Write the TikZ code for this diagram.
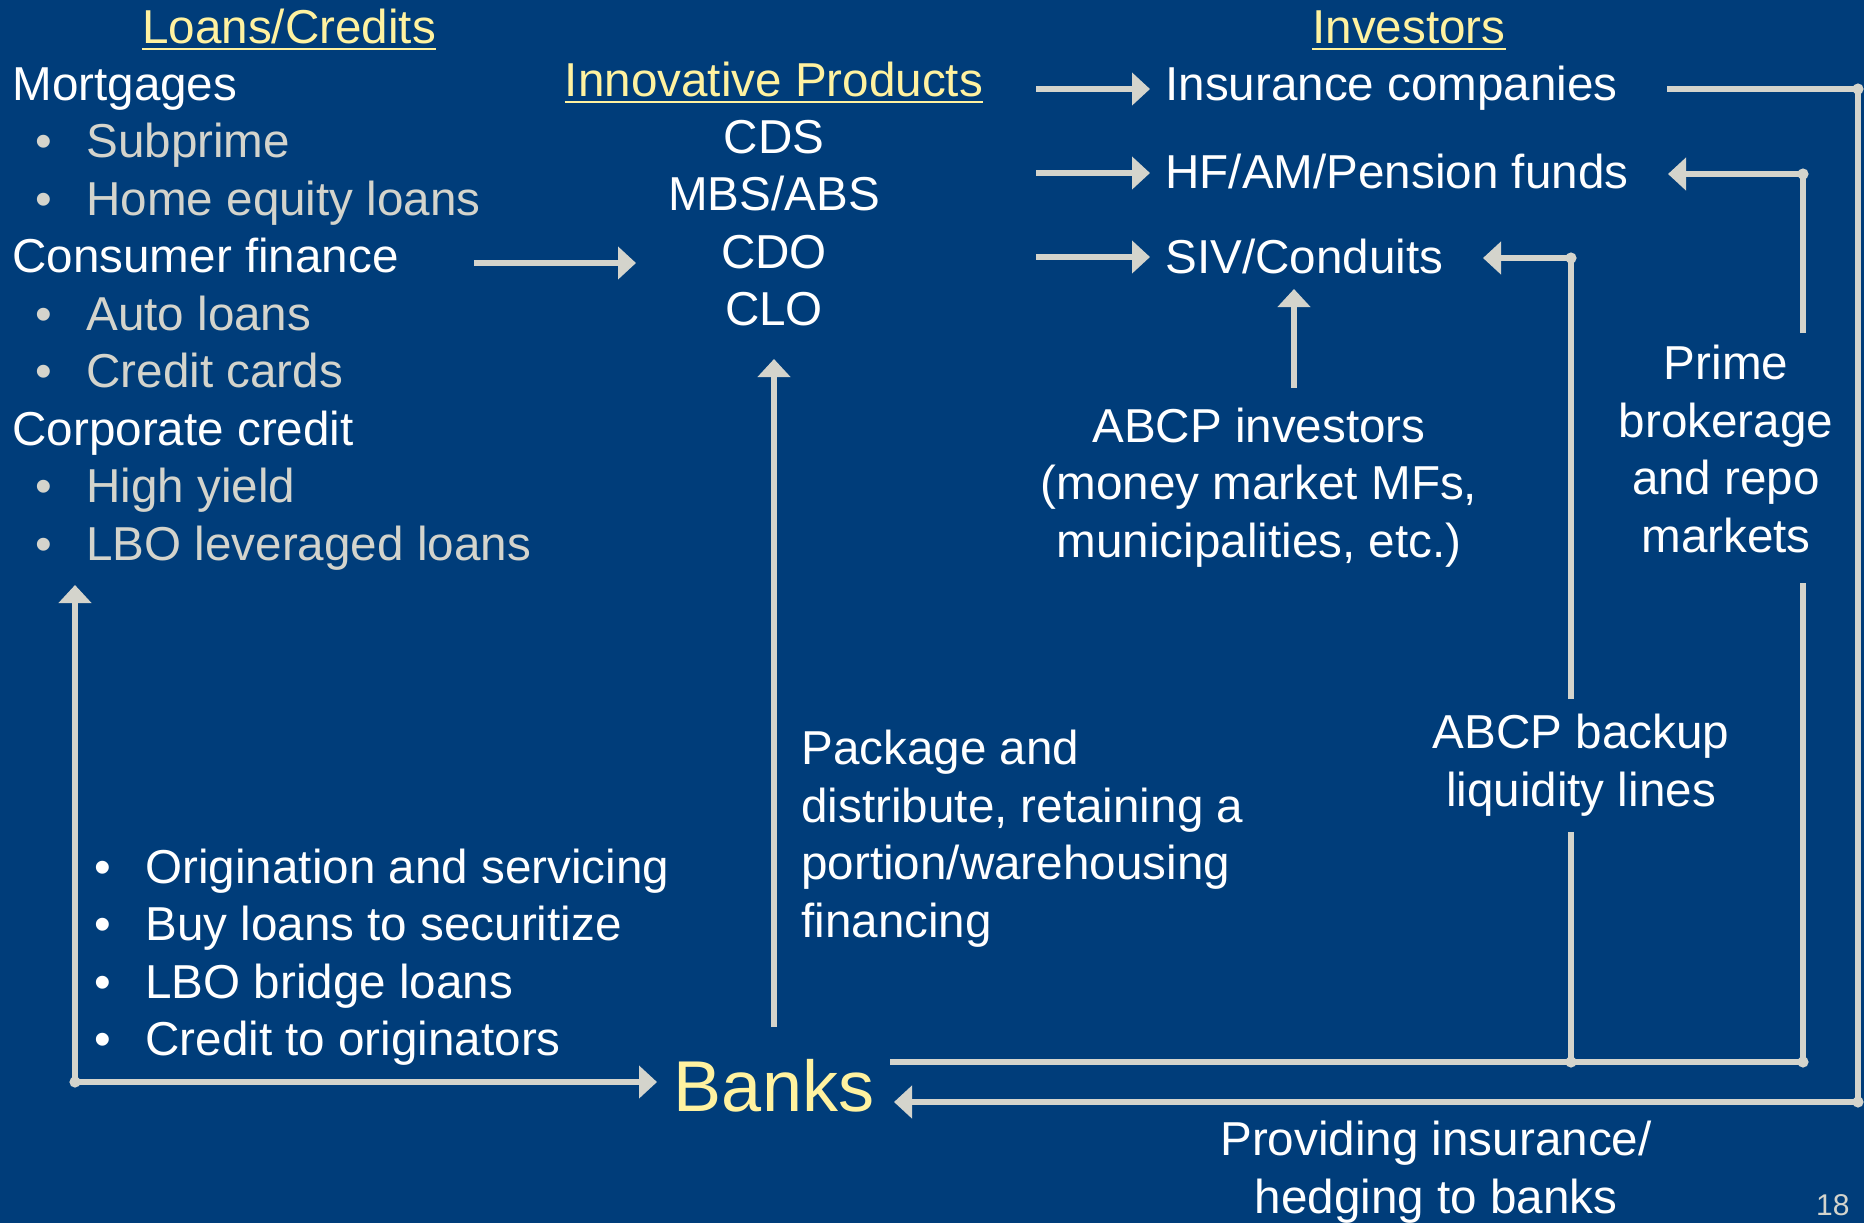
\documentclass[tikz,border=0pt]{standalone}
\usepackage{fontspec}
\setmainfont{Liberation Sans}
\usetikzlibrary{arrows.meta,positioning}
\definecolor{slideblue}{RGB}{0,61,122}
\definecolor{flowgray}{RGB}{212,212,204}
\definecolor{headyellow}{RGB}{255,242,160}
\tikzset{
txt/.style={
  inner sep=0pt, anchor=base west, text=white,
  font=\fontsize{23.8}{28.75}\selectfont
  },
subtxt/.style={txt, text=flowgray},
bull/.style={inner sep=0pt, anchor=base,
  font=\fontsize{23.8}{28.75}\selectfont},
ctrtxt/.style={
  inner sep=0pt, anchor=base, align=center, text=white,
  font=\fontsize{23.8}{28.75}\selectfont
  },
head/.style={ctrtxt, text=headyellow},
flow/.style={draw=flowgray, line width=3.25pt, line join=round},
uline/.style={draw=headyellow, line width=1.4pt}
}

\begin{document}
\begin{tikzpicture}[x=0.5pt,y=-0.5pt,>={Triangle[length=9pt,width=16pt]}]
\fill[slideblue] (0,0) rectangle (1864,1223);
\useasboundingbox (0,0) rectangle (1864,1223);

% loans / credits
\node[head] (loans) at (289,43) {Loans/Credits};
\node[txt] (mort) at (12,100) {Mortgages};
\node[subtxt] (subpr) at (86,157.5) {Subprime};
\node[subtxt] (homeq) at (86,215) {Home equity loans};
\node[txt] (cons) at (12,272.5) {Consumer finance};
\node[subtxt] (auto) at (86,330) {Auto loans};
\node[subtxt] (card) at (86,387.5) {Credit cards};
\node[txt] (corp) at (12,445) {Corporate credit};
\node[subtxt] (hiyld) at (86,502.5) {High yield};
\node[subtxt] (lbo) at (86,560) {LBO leveraged loans};
\foreach \y [count=\i] in {157.5,215,330,387.5,502.5,560}
  \node[bull,text=flowgray] (lb\i) at (44,\y) {\textbullet};

% products (base = last line)
\node[head] (innov) at (774,96) {Innovative Products};
\node[ctrtxt] (prod) at (774,325.5) {CDS\\MBS/ABS\\CDO\\CLO};

% investors
\node[head] (invest) at (1409,43) {Investors};
\node[txt] (insur) at (1165,100) {Insurance companies};
\node[txt] (hfam) at (1165,188) {HF/AM/Pension funds};
\node[txt] (siv) at (1165,273) {SIV/Conduits};

\draw[uline] ([yshift=-3pt]loans.base west) -- ([yshift=-3pt]loans.base east);
\draw[uline] ([yshift=-3pt]innov.base west) -- ([yshift=-3pt]innov.base east);
\draw[uline] ([yshift=-3pt]invest.base west) -- ([yshift=-3pt]invest.base east);

% middle labels
\node[ctrtxt] (abcpinv) at (1259,557)
  {ABCP investors\\(money market MFs,\\municipalities, etc.)};
\node[ctrtxt] (prime) at (1726,552) {Prime\\brokerage\\and repo\\markets};
\node[ctrtxt] (backup) at (1581,806) {ABCP backup\\liquidity lines};
\node[txt, align=left] (pack) at (801,937)
  {Package and\\distribute, retaining a\\portion/warehousing\\financing};

% banks
\node[txt] (orig) at (145,883) {Origination and servicing};
\node[txt] (buy) at (145,940.5) {Buy loans to securitize};
\node[txt] (bridge) at (145,998) {LBO bridge loans};
\node[txt] (credo) at (145,1055.5) {Credit to originators};
\foreach \y [count=\i] in {883,940.5,998,1055.5}
  \node[bull,text=white] (bb\i) at (103,\y) {\textbullet};
\node[inner sep=0pt, anchor=base, text=headyellow,
  font=\fontsize{36}{40}\selectfont] (banks) at (774,1111) {Banks};
\node[ctrtxt] (hedge) at (1436,1213) {Providing insurance/\\hedging to banks};
\node[inner sep=0pt, anchor=base east, text=flowgray,
  font=\fontsize{15}{17}\selectfont] (pgno) at (1850,1215) {18};

% connector ends
\coordinate (consA) at (474,263);
\coordinate (consB) at (636,263);
\coordinate (invA1) at (1036,89);
\coordinate (invB1) at (1150,89);
\coordinate (invA2) at (1036,173);
\coordinate (invB2) at (1150,173);
\coordinate (invA3) at (1036,257);
\coordinate (invB3) at (1150,257);
\coordinate (insA) at (1667,89);
\coordinate (insC) at (1858,89);
\coordinate (insD) at (1858,1102);
\coordinate (insB) at (894,1102);
\coordinate (prA) at (1803,333);
\coordinate (prC) at (1803,174);
\coordinate (prB) at (1668,174);
\coordinate (prD) at (1803,583);
\coordinate (prE) at (1803,1062);
\coordinate (bkA) at (1571,699);
\coordinate (bkC) at (1571,258);
\coordinate (bkB) at (1483,258);
\coordinate (bkD) at (1571,832);
\coordinate (bkE) at (1571,1062);
\coordinate (bnkA) at (890,1062);
\coordinate (abA) at (1294,388);
\coordinate (abB) at (1294,289);
\coordinate (pkA) at (774,1027);
\coordinate (pkB) at (774,359);
\coordinate (lnA) at (75,585);
\coordinate (lnC) at (75,1082);
\coordinate (lnB) at (657,1082);

% arrows
\draw[flow,->] (consA) -- (consB);
\draw[flow,->] (invA1) -- (invB1);
\draw[flow,->] (invA2) -- (invB2);
\draw[flow,->] (invA3) -- (invB3);
\draw[flow,->] (insA) -- (insC) -- (insD) -- (insB);
\draw[flow,->] (prA) -- (prC) -- (prB);
\draw[flow] (prD) -- (prE);
\draw[flow,->] (bkA) -- (bkC) -- (bkB);
\draw[flow] (bkD) -- (bkE);
\draw[flow] (bnkA) -- (prE);
\draw[flow,->] (abA) -- (abB);
\draw[flow,->] (pkA) -- (pkB);
\draw[flow,<->] (lnA) -- (lnC) -- (lnB);
\foreach \c in {insC,insD,prC,prE,bkC,bkE,lnC}
  \fill[flowgray] (\c) circle (2.8pt);

\end{tikzpicture}
\end{document}
